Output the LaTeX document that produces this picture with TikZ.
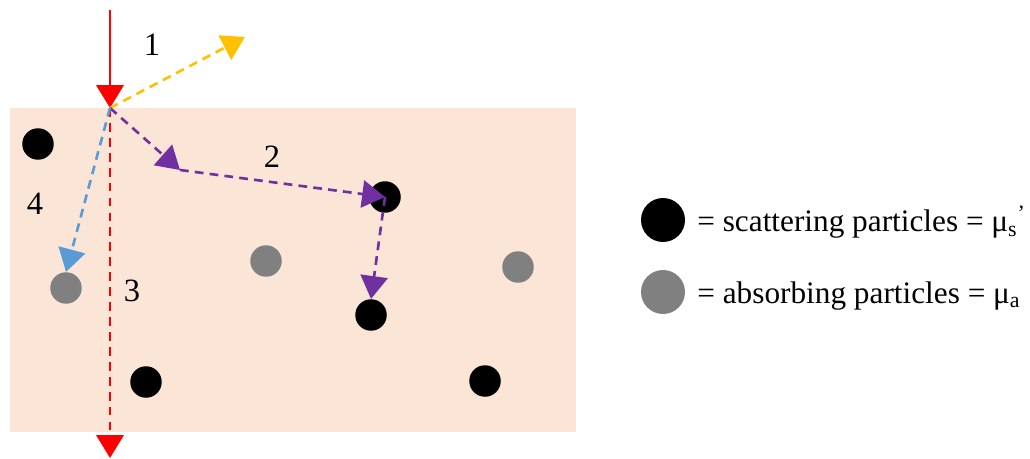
\documentclass[tikz,border=0pt]{standalone}
\usepackage{fontspec}
\setmainfont{Liberation Serif}
\usetikzlibrary{arrows.meta}

\definecolor{tissue}{HTML}{FBE5D6}
\definecolor{reflc}{HTML}{FFC000}
\definecolor{scatc}{HTML}{7030A0}
\definecolor{absc}{HTML}{5B9BD5}
\definecolor{grayp}{HTML}{808080}

\begin{document}
\begin{tikzpicture}[
x=0.02cm,y=-0.02cm,
every node/.style={font=\fontsize{17.8}{20}\selectfont},
scat/.style={circle,fill=black,inner sep=0pt,minimum size=0.63cm},
absorb/.style={circle,fill=grayp,inner sep=0pt,minimum size=0.63cm},
ray/.style={line width=1.5pt,-{Triangle[length=13pt,width=15.5pt]}},
dashray/.style={ray,dash pattern=on 5pt off 3.5pt},
num/.style={inner sep=0pt,font=\fontsize{18.5}{20}\selectfont}]

\useasboundingbox (0,0) rectangle (1030,459);

% tissue
\fill[tissue] (10,108) rectangle (576,432);

% particles
\node[scat] (s1) at (38,144) {};
\node[scat] (s2) at (385,197) {};
\node[scat] (s3) at (371,315) {};
\node[scat] (s4) at (146,382) {};
\node[scat] (s5) at (485,381) {};
\node[absorb] (a1) at (66,288) {};
\node[absorb] (a2) at (266,261) {};
\node[absorb] (a3) at (518,267) {};

% light paths
\coordinate (src) at (110,10);
\coordinate (entry) at (110,108);
\coordinate (exit) at (110,458);
\coordinate (refl) at (245,37);
\coordinate (kink) at (180,170);

\draw[ray,red] (src)--(entry);
\draw[dashray,red] (entry)--(exit);
\draw[dashray,reflc] (entry)--(refl);
\draw[dashray,scatc] (entry)--(kink);
\draw[dashray,scatc] (kink)--(s2.center);
\draw[dashray,scatc] (s2.center)--(s3.north);
\draw[dashray,absc] (entry)--(a1.north);

\node[num] (l1) at (152,45) {1};
\node[num] (l2) at (272,157) {2};
\node[num] (l3) at (132,291) {3};
\node[num] (l4) at (35,204) {4};

% legend
\node[scat,minimum size=0.88cm] (ks) at (663,220) {};
\node[absorb,minimum size=0.88cm] (ka) at (663,292) {};
\node[anchor=base west,inner sep=0pt] (ts) at (697,232)
  {= scattering particles = μ\textsubscript{s}\textsuperscript{’}};
\node[anchor=base west,inner sep=0pt] (ta) at (697,303)
  {= absorbing particles = μ\textsubscript{a}};

\end{tikzpicture}
\end{document}
